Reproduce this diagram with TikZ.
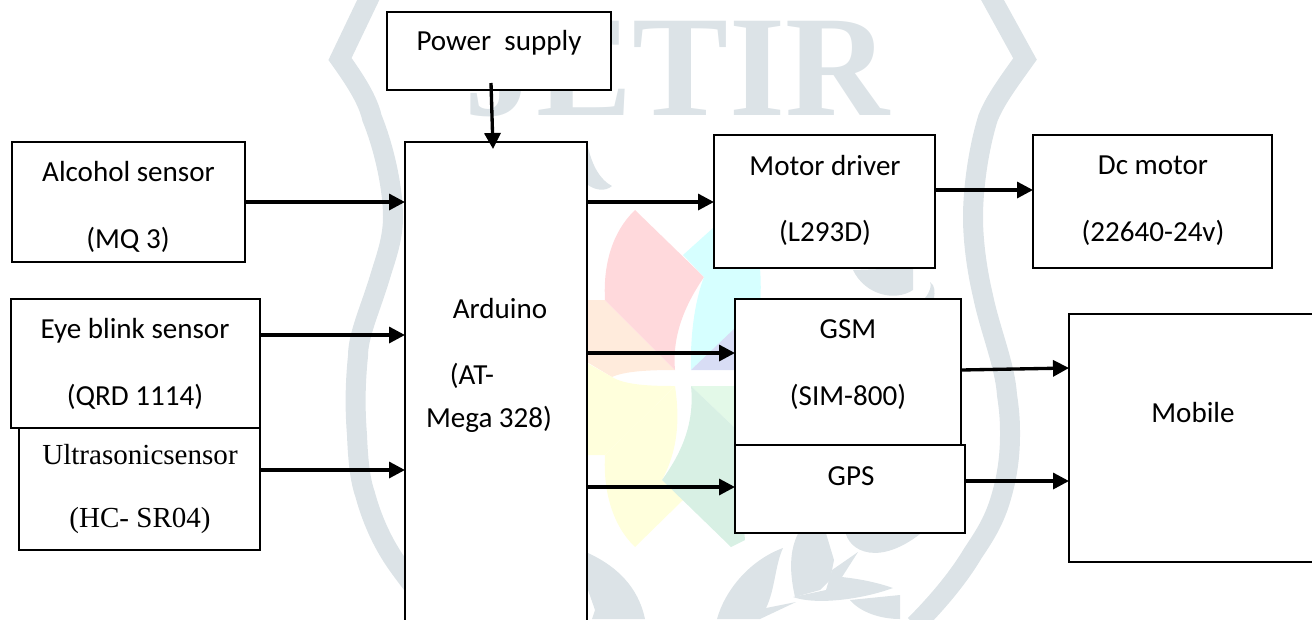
\documentclass[tikz,border=0pt]{standalone}
\usepackage{fontspec}
\setmainfont{Carlito}
\newfontfamily\serifface{Liberation Serif}
\usetikzlibrary{arrows.meta}
\definecolor{wmgray}{HTML}{DCE3E7}
\definecolor{wpink}{HTML}{FFD9DC}
\definecolor{wcyan}{HTML}{D6FFFF}
\definecolor{wpeach}{HTML}{FFEBDC}
\definecolor{wlilac}{HTML}{D8DDF5}
\definecolor{wyellow}{HTML}{FFFFDC}
\definecolor{wgreen}{HTML}{D8F0E4}
\definecolor{wlgreen}{HTML}{E3F9E8}
\tikzset{
  blockbox/.style={draw=black,fill=white,line width=1.5pt,inner sep=0pt,outer sep=0pt},
  lbl/.style={inner sep=0pt,font=\fontsize{21.8}{24}\selectfont,text=black},
  lblserif/.style={lbl,font=\fontsize{21.8}{24}\selectfont\serifface},
  conn/.style={draw=black,line width=2.5pt,-{Triangle[length=12pt,width=12pt]}},
  band/.style={draw=wmgray,line width=15pt,line join=miter},
  leaf/.style={fill=wmgray,draw=none}
}
\newcommand{\blockat}[5]{%
  \pgfmathsetmacro{\bw}{(#4-#2)*0.75}%
  \pgfmathsetmacro{\bh}{(#5-#3)*0.75}%
  \pgfmathsetmacro{\bx}{(#2+#4)/2}%
  \pgfmathsetmacro{\by}{(#3+#5)/2}%
  \node[blockbox,minimum width=\bw pt,minimum height=\bh pt] (#1) at (\bx,\by) {};}
\begin{document}
\begin{tikzpicture}[x=0.75pt,y=-0.75pt]
\useasboundingbox (0,0) rectangle (1312,619);
\clip (0,0) rectangle (1312,619);
% watermark
\fill[wpeach] (675,370) -- (605,300) -- (587,300) -- (587,362) -- (612,377) .. controls (625,371) and (650,370) .. (675,370) -- cycle;
\fill[wpink] (635,210) -- (704,277) .. controls (685,305) and (672,335) .. (675,370) -- (605,300) .. controls (603,265) and (612,232) .. (635,210) -- cycle;
\fill[wcyan] (691,370) .. controls (690,335) and (695,300) .. (704,277) -- (683,255) -- (713,228) -- (760,268) .. controls (761,280) and (761,295) .. (760,305) -- cycle;
\fill[wlilac] (691,370) -- (735,328) -- (735,370) -- cycle;
\fill[wyellow] (587,363) -- (612,377) .. controls (625,385) and (650,386) .. (675,386) -- (605,455) -- (587,455) -- cycle;
\fill[wyellow] (675,386) .. controls (680,420) and (678,450) .. (662,480) -- (683,500) -- (635,547) .. controls (612,525) and (603,490) .. (605,455) -- cycle;
\fill[wlgreen] (691,386) -- (735,386) -- (735,428) -- cycle;
\fill[wgreen] (691,386) -- (735,428) -- (745,540) -- (731,547) -- (662,480) .. controls (680,455) and (695,425) .. (691,386) -- cycle;
\draw[band] (373,-10) -- (340,59) .. controls (355,80) and (368,100) .. (372,118) .. controls (385,150) and (393,190) .. (393,217) .. controls (393,240) and (385,260) .. (380,277) .. controls (370,310) and (358,335) .. (358,356) .. controls (355,385) and (355,410) .. (357,435) .. controls (358,460) and (360,480) .. (365,494) .. controls (372,520) and (382,540) .. (390,553) .. controls (400,570) and (425,600) .. (444,625);
\draw[band] (987,-10) -- (1025,59) .. controls (1010,80) and (995,100) .. (988,118) .. controls (978,150) and (973,190) .. (973,217) .. controls (973,245) and (978,275) .. (983,296) .. controls (990,330) and (1005,365) .. (1007,395) .. controls (1010,415) and (1010,425) .. (1010,435) .. controls (1010,460) and (1006,480) .. (1002,494) .. controls (995,520) and (985,535) .. (973,553) .. controls (960,575) and (940,600) .. (915,625);
\node[inner sep=0pt,anchor=base,text=wmgray,font=\fontsize{108}{110}\selectfont\serifface\bfseries] (wmtext) at (677,115) {JETIR};
\fill[leaf] (588,147) .. controls (592,165) and (600,180) .. (612,186) .. controls (605,192) and (595,190) .. (588,185) -- cycle;
\fill[leaf] (853,270) .. controls (865,295) and (895,302) .. (913,290) -- (913,268) -- cycle;
\fill[leaf] (925,298) .. controls (930,292) and (932,285) .. (930,282) .. controls (935,285) and (935,292) .. (934,298) -- cycle;
\fill[leaf] (845,530) .. controls (848,552) and (880,568) .. (925,530) -- cycle;
\fill[leaf] (800,530) .. controls (788,550) and (790,575) .. (795,597) -- (820,590) -- (830,580) -- (834,560) -- (825,530) -- cycle;
\fill[leaf] (793,597) .. controls (815,605) and (860,600) .. (893,588) .. controls (870,580) and (850,578) .. (842,577) -- (858,552) -- (832,570) -- (826,590) -- cycle;
\fill[leaf] (783,548) .. controls (750,560) and (725,590) .. (717,619) -- (760,619) -- (796,602) -- (766,608) .. controls (775,590) and (775,565) .. (783,548) -- cycle;
\fill[leaf] (588,553) .. controls (625,570) and (640,595) .. (645,619) -- (592,619) -- (595,610) -- (588,590) -- cycle;
\fill[leaf] (900,619) .. controls (880,619) and (860,612) .. (850,600) -- (900,595) -- cycle;
% blocks
\blockat{ultra}{19}{428}{260}{550}
\blockat{alcohol}{12}{142}{245}{262}
\blockat{eye}{11}{299}{260}{428}
\blockat{arduino}{405}{142}{587}{640}
\blockat{power}{387}{12}{611}{90}
\blockat{motor}{714}{135}{935}{268}
\blockat{dcm}{1033}{135}{1272}{268}
\blockat{gsm}{735}{299}{961}{445}
\blockat{gps}{735}{445}{965}{533}
\blockat{mobile}{1069}{314}{1325}{562}
% labels
\node[lbl] (tpower) at (499,43) {Power\ \ supply};
\node[lbl] (talc1) at (128.5,172) {Alcohol sensor};
\node[lbl] (talc2) at (128,240) {(MQ 3)};
\node[lbl] (teye1) at (135,331) {Eye blink sensor};
\node[lbl] (teye2) at (135,397) {(QRD 1114)};
\node[lblserif] (tus1) at (140,455) {Ultrasonicsensor};
\node[lblserif] (tus2) at (140,520) {(HC- SR04)};
\node[lbl] (tard1) at (500,309) {Arduino};
\node[lbl] (tard2) at (472,376) {(AT-};
\node[lbl] (tard3) at (489,419) {Mega 328)};
\node[lbl] (tmot1) at (825,166) {Motor driver};
\node[lbl] (tmot2) at (825,233) {(L293D)};
\node[lbl] (tdc1) at (1153,165) {Dc motor};
\node[lbl] (tdc2) at (1153,233) {(22640-24v)};
\node[lbl] (tgsm1) at (848,329) {GSM};
\node[lbl] (tgsm2) at (848,397) {(SIM-800)};
\node[lbl] (tgps) at (851,476) {GPS};
\node[lbl] (tmob) at (1193,412) {Mobile};
% connectors
\coordinate (pwrout) at (491,83);
\coordinate (ardin) at (493,149);
\draw[conn] (pwrout) -- (ardin);
\draw[conn] (alcohol.east |- 0,202) -- (arduino.west |- 0,202);
\draw[conn] (eye.east |- 0,335) -- (arduino.west |- 0,335);
\draw[conn] (ultra.east |- 0,470) -- (arduino.west |- 0,470);
\draw[conn] (arduino.east |- 0,202) -- (motor.west |- 0,202);
\draw[conn] (motor.east |- 0,190) -- (dcm.west |- 0,190);
\draw[conn] (arduino.east |- 0,353) -- (gsm.west |- 0,353);
\draw[conn] (arduino.east |- 0,487) -- (gps.west |- 0,487);
\draw[conn] (gsm.east |- 0,370) -- (mobile.west |- 0,368);
\draw[conn] (gps.east |- 0,481) -- (mobile.west |- 0,481);
\end{tikzpicture}
\end{document}
